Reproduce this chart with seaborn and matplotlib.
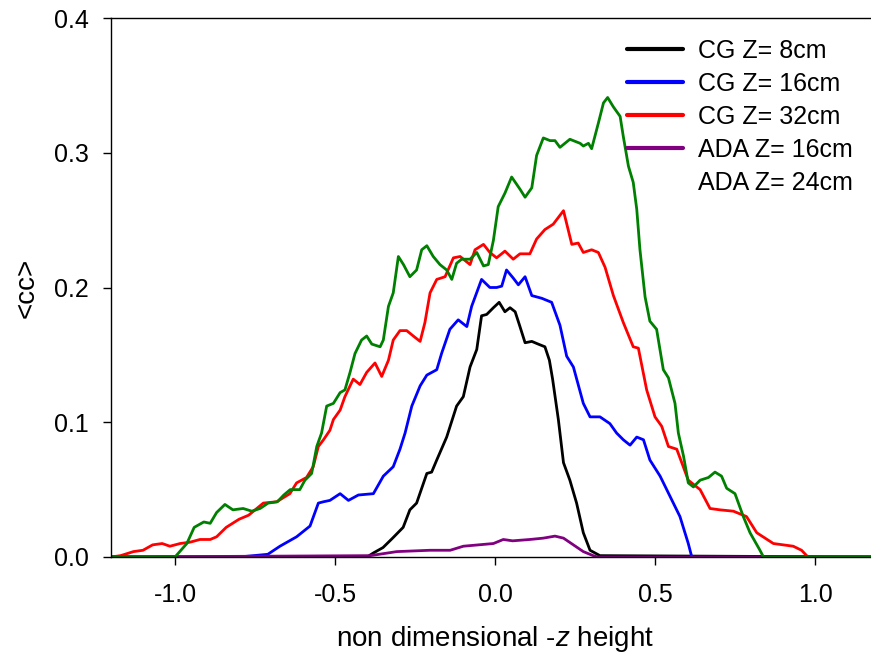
import matplotlib
matplotlib.use("Agg")
import matplotlib.pyplot as plt
import seaborn as sns
import pandas as pd

# ---- data ----
labels = ["CG Z= 8cm", "CG Z= 16cm", "CG Z= 32cm", "ADA Z= 16cm", "ADA Z= 24cm"]
colors = ["#000000", "#0000ff", "#ff0000", "#800080", "#008000"]

cg8_x = [-1.2, -0.40, -0.38, -0.35, -0.32, -0.287, -0.266, -0.245, -0.213, -0.198, -0.182, -0.151,
         -0.120, -0.099, -0.078, -0.057, -0.042, -0.026, -0.005, 0.013, 0.031, 0.047, 0.063, 0.078,
         0.094, 0.115, 0.135, 0.156, 0.170, 0.180, 0.198, 0.214, 0.234, 0.255, 0.276, 0.297, 0.328, 1.2]
cg8_y = [0, 0, 0.003, 0.007, 0.014, 0.022, 0.035, 0.040, 0.062, 0.063, 0.072, 0.089,
         0.112, 0.119, 0.141, 0.154, 0.179, 0.180, 0.185, 0.189, 0.182, 0.185, 0.182, 0.171,
         0.159, 0.160, 0.158, 0.156, 0.146, 0.132, 0.102, 0.070, 0.057, 0.040, 0.018, 0.005, 0.001, 0]

cg16_x = [-1.2, -0.80, -0.71, -0.672, -0.62, -0.578, -0.552, -0.536, -0.516, -0.484, -0.458, -0.427,
          -0.38, -0.349, -0.318, -0.297, -0.281, -0.260, -0.234, -0.213, -0.182, -0.167, -0.141,
          -0.115, -0.088, -0.073, -0.042, -0.016, 0.005, 0.021, 0.036, 0.057, 0.073, 0.094, 0.115,
          0.146, 0.177, 0.203, 0.224, 0.245, 0.276, 0.297, 0.328, 0.359, 0.380, 0.401, 0.422, 0.443,
          0.464, 0.484, 0.516, 0.547, 0.578, 0.604, 0.615, 1.2]
cg16_y = [0, 0, 0.002, 0.008, 0.015, 0.023, 0.040, 0.041, 0.042, 0.047, 0.042, 0.046,
          0.047, 0.060, 0.067, 0.080, 0.092, 0.112, 0.127, 0.135, 0.139, 0.151, 0.169,
          0.176, 0.171, 0.186, 0.206, 0.200, 0.200, 0.201, 0.213, 0.207, 0.202, 0.208, 0.194,
          0.192, 0.189, 0.172, 0.149, 0.141, 0.114, 0.104, 0.104, 0.099, 0.092, 0.087, 0.083, 0.089,
          0.087, 0.072, 0.060, 0.045, 0.030, 0.010, 0.0, 0]

cg32_x = [-1.2, -1.17, -1.13, -1.10, -1.07, -1.04, -1.016, -0.984, -0.953, -0.922, -0.89, -0.87,
          -0.84, -0.80, -0.77, -0.724, -0.682, -0.641, -0.620, -0.589, -0.568, -0.552, -0.536,
          -0.516, -0.505, -0.484, -0.469, -0.443, -0.422, -0.401, -0.375, -0.354, -0.333, -0.318,
          -0.297, -0.276, -0.25, -0.234, -0.219, -0.203, -0.182, -0.156, -0.130, -0.109, -0.078,
          -0.0625, -0.036, -0.016, 0.005, 0.031, 0.057, 0.078, 0.109, 0.130, 0.156, 0.182, 0.214,
          0.240, 0.260, 0.276, 0.302, 0.323, 0.344, 0.370, 0.401, 0.432, 0.448, 0.474, 0.5, 0.521,
          0.542, 0.568, 0.604, 0.641, 0.672, 0.703, 0.745, 0.786, 0.818, 0.870, 0.932, 0.958, 0.978, 1.2]
cg32_y = [0, 0.001, 0.004, 0.005, 0.009, 0.010, 0.008, 0.010, 0.011, 0.013, 0.013, 0.015,
          0.022, 0.028, 0.031, 0.040, 0.041, 0.047, 0.055, 0.059, 0.067, 0.082, 0.087,
          0.094, 0.102, 0.109, 0.119, 0.132, 0.128, 0.137, 0.144, 0.134, 0.146, 0.161,
          0.168, 0.168, 0.163, 0.160, 0.174, 0.196, 0.206, 0.208, 0.222, 0.223, 0.217,
          0.228, 0.232, 0.226, 0.222, 0.227, 0.221, 0.225, 0.225, 0.236, 0.243, 0.247, 0.257,
          0.232, 0.233, 0.226, 0.228, 0.226, 0.215, 0.194, 0.174, 0.156, 0.155, 0.124, 0.104, 0.097,
          0.082, 0.080, 0.057, 0.050, 0.036, 0.035, 0.034, 0.030, 0.018, 0.010, 0.008, 0.005, 0.0, 0]

ada16_x = [-1.2, -0.39, -0.307, -0.203, -0.14, -0.099, -0.005, 0.026, 0.055, 0.109, 0.151, 0.1875,
           0.214, 0.245, 0.276, 0.307, 0.32, 1.2]
ada16_y = [0, 0.001, 0.004, 0.005, 0.005, 0.008, 0.010, 0.013, 0.012, 0.013, 0.014, 0.0155,
           0.014, 0.009, 0.004, 0.001, 0, 0]

ada24_x = [-1.2, -1.0, -0.963, -0.94, -0.91, -0.89, -0.87, -0.844, -0.819, -0.787, -0.76, -0.734,
           -0.709, -0.68, -0.66, -0.64, -0.61, -0.594, -0.573, -0.557, -0.542, -0.526, -0.505,
           -0.484, -0.469, -0.453, -0.4375, -0.417, -0.401, -0.385, -0.359, -0.349, -0.333, -0.318,
           -0.302, -0.286, -0.266, -0.245, -0.229, -0.213, -0.193, -0.172, -0.151, -0.135, -0.120,
           -0.104, -0.078, -0.057, -0.036, -0.021, -0.005, 0.010, 0.031, 0.052, 0.078, 0.094, 0.115,
           0.130, 0.151, 0.172, 0.1875, 0.203, 0.234, 0.266, 0.276, 0.292, 0.302, 0.323, 0.339,
           0.352, 0.370, 0.391, 0.401, 0.417, 0.432, 0.443, 0.453, 0.469, 0.484, 0.505, 0.526,
           0.542, 0.5625, 0.573, 0.589, 0.604, 0.620, 0.641, 0.667, 0.6875, 0.708, 0.724, 0.75,
           0.776, 0.797, 0.828, 0.839, 1.2]
ada24_y = [0, 0, 0.010, 0.022, 0.026, 0.025, 0.033, 0.039, 0.035, 0.036, 0.034, 0.036,
           0.040, 0.041, 0.046, 0.050, 0.050, 0.057, 0.062, 0.082, 0.092, 0.112, 0.114,
           0.122, 0.124, 0.137, 0.151, 0.161, 0.164, 0.158, 0.156, 0.161, 0.186, 0.196,
           0.223, 0.217, 0.208, 0.213, 0.228, 0.231, 0.223, 0.217, 0.213, 0.206, 0.218,
           0.221, 0.221, 0.226, 0.216, 0.217, 0.235, 0.260, 0.270, 0.282, 0.273, 0.267, 0.274,
           0.298, 0.311, 0.309, 0.309, 0.304, 0.310, 0.307, 0.305, 0.307, 0.303, 0.322, 0.337,
           0.341, 0.334, 0.327, 0.312, 0.290, 0.278, 0.258, 0.228, 0.193, 0.175, 0.169, 0.139,
           0.133, 0.114, 0.092, 0.075, 0.055, 0.052, 0.057, 0.059, 0.063, 0.060, 0.051, 0.047,
           0.030, 0.018, 0.005, 0.0, 0]

xticks = [-1.0, -0.5, 0.0, 0.5, 1.0]
yticks = [0.0, 0.1, 0.2, 0.3, 0.4]

series = [(cg8_x, cg8_y), (cg16_x, cg16_y), (cg32_x, cg32_y), (ada16_x, ada16_y), (ada24_x, ada24_y)]
frames = []
for lab, (xs, ys) in zip(labels, series):
    frames.append(pd.DataFrame({"x": xs, "y": ys, "series": lab}))
df = pd.concat(frames, ignore_index=True)

# ---- style ----
sns.set_theme(style="ticks")
plt.rcParams["font.family"] = ["Liberation Sans", "DejaVu Sans"]
plt.rcParams["mathtext.fontset"] = "custom"
plt.rcParams["mathtext.it"] = "Liberation Sans:italic"
plt.rcParams["mathtext.rm"] = "Liberation Sans"
plt.rcParams["text.color"] = "black"
plt.rcParams["axes.labelcolor"] = "black"
plt.rcParams["xtick.color"] = "black"
plt.rcParams["ytick.color"] = "black"
plt.rcParams["xtick.labelcolor"] = "black"
plt.rcParams["ytick.labelcolor"] = "black"
plt.rcParams["lines.solid_joinstyle"] = "round"

fig = plt.figure(figsize=(8.71, 6.61), dpi=100)
ax = fig.add_axes([111 / 871, 104 / 661, 768 / 871, 539 / 661])

sns.lineplot(data=df, x="x", y="y", hue="series", hue_order=labels,
             palette=dict(zip(labels, colors)), sort=False, estimator=None,
             linewidth=2.0, ax=ax, legend=True)

ax.set_xlim(-1.2, 1.2)
ax.set_ylim(0, 0.4)
ax.set_xticks(xticks)
ax.set_xticklabels([f"{t:.1f}" for t in xticks])
ax.set_yticks(yticks)
ax.set_yticklabels([f"{t:.1f}" for t in yticks])
for s in ["left", "bottom", "top", "right"]:
    ax.spines[s].set_visible(True)
    ax.spines[s].set_linewidth(1.0)
    ax.spines[s].set_color("black")
ax.tick_params(axis="both", direction="out", length=6, width=1.0, labelsize=18,
               colors="black", labelcolor="black")
ax.tick_params(axis="x", pad=13)
ax.tick_params(axis="y", pad=10)

ax.set_xlabel("non dimensional -$z$ height", fontsize=20, labelpad=12, color="black")
ax.set_ylabel("<cc>", fontsize=20, labelpad=10, color="black")

handles, labs = ax.get_legend_handles_labels()
leg = ax.legend(handles, labs, loc="upper left", bbox_to_anchor=(627 / 871, 1 - 39 / 661),
                bbox_transform=fig.transFigure, frameon=False, fontsize=18,
                borderpad=0, borderaxespad=0, handlelength=2.25, handletextpad=0.6,
                labelspacing=0.36)
for ln in leg.get_lines():
    ln.set_linewidth(3)
leg.get_lines()[4].set_visible(False)
for t in leg.get_texts():
    t.set_color("black")

fig.savefig("out.png", dpi=100)
